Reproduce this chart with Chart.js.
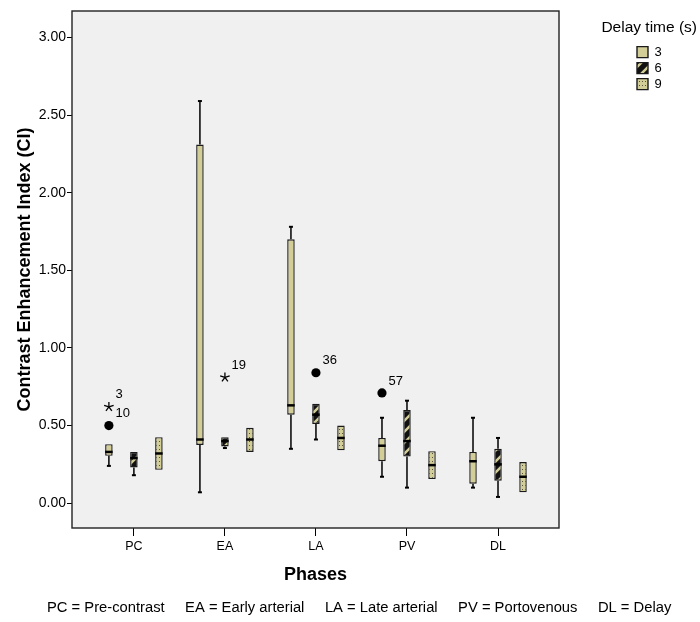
<!DOCTYPE html>
<html>
<head>
<meta charset="utf-8">
<script src="https://cdn.jsdelivr.net/npm/chart.js@4.4.1/dist/chart.umd.min.js"></script>
<style>
  body { margin: 0; background: #fff; }
  canvas { display: block; }
</style>
</head>
<body>
<canvas id="myChart" width="700" height="622"></canvas>
<script>
var phases = ["PC", "EA", "LA", "PV", "DL"];
var delays = ["3", "6", "9"];

// one row per delay time (3, 6, 9 s), one column per phase
var whiskerLow  = [[0.24, 0.07, 0.35, 0.17, 0.10],
                   [0.18, 0.355, 0.41, 0.10, 0.04],
                   [0.215, 0.33, 0.34, 0.155, 0.07]];
var quart1      = [[0.305, 0.375, 0.57, 0.27, 0.125],
                   [0.23, 0.365, 0.51, 0.30, 0.145],
                   [0.215, 0.33, 0.34, 0.155, 0.07]];
var median      = [[0.33, 0.41, 0.63, 0.37, 0.27],
                   [0.29, 0.40, 0.57, 0.40, 0.25],
                   [0.32, 0.41, 0.42, 0.245, 0.17]];
var quart3      = [[0.38, 2.31, 1.70, 0.42, 0.33],
                   [0.33, 0.425, 0.64, 0.60, 0.35],
                   [0.425, 0.485, 0.50, 0.335, 0.265]];
var whiskerHigh = [[0.385, 2.59, 1.78, 0.55, 0.55],
                   [0.335, 0.425, 0.64, 0.66, 0.42],
                   [0.425, 0.485, 0.50, 0.335, 0.265]];

// outliers (circle) and extremes (star) with case numbers
var outlierPhase = [0, 0, 1, 2, 3];
var outlierDelay = [0, 0, 1, 1, 0];
var outlierValue = [0.62, 0.50, 0.81, 0.84, 0.71];
var outlierCase  = ["3", "10", "19", "36", "57"];
var outlierStar  = [true, false, true, false, false];

var yTicks = [0, 0.5, 1, 1.5, 2, 2.5, 3];
var footnote = "PC = Pre-contrast     EA = Early arterial     LA = Late arterial     PV = Portovenous     DL = Delay";

var khaki = "#d3ce97";

function makePattern(kind) {
    var c = document.createElement("canvas");
    var g = c.getContext("2d");
    if (kind === "stripe") {
        c.width = 11; c.height = 11;
        g.fillStyle = "#111";
        g.fillRect(0, 0, 11, 11);
        g.strokeStyle = khaki;
        g.lineWidth = 2.5;
        g.beginPath();
        g.moveTo(0, 11); g.lineTo(11, 0);
        g.moveTo(-2, 2); g.lineTo(2, -2);
        g.moveTo(9, 13); g.lineTo(13, 9);
        g.stroke();
    } else {
        c.width = 3; c.height = 4;
        g.fillStyle = khaki;
        g.fillRect(0, 0, 3, 4);
        g.fillStyle = "#57523a";
        g.fillRect(0, 1, 1, 1);
    }
    return g.createPattern(c, "repeat");
}

var fills = [khaki, makePattern("stripe"), makePattern("dots")];

Chart.defaults.font.family = "'Liberation Sans', Arial, sans-serif";
Chart.defaults.color = "#000";

var datasets = delays.map(function (d, k) {
    return {
        label: d,
        data: phases.map(function (p, i) {
            return { x: i, y: [quart1[k][i], quart3[k][i]] };
        }),
        backgroundColor: fills[k],
        borderColor: "#1a1a1a",
        borderWidth: 1.4,
        borderSkipped: false,
        categoryPercentage: 0.824,
        barPercentage: 0.3
    };
});

function line(ctx, x1, y1, x2, y2) {
    ctx.beginPath();
    ctx.moveTo(x1, y1);
    ctx.lineTo(x2, y2);
    ctx.stroke();
}

var plotFrame = {
    id: "plotFrame",
    beforeDraw: function (chart) {
        var a = chart.chartArea, ctx = chart.ctx;
        ctx.save();
        ctx.fillStyle = "#f0f0f0";
        ctx.fillRect(a.left, a.top, a.right - a.left, a.bottom - a.top);
        ctx.restore();
    },
    afterDraw: function (chart) {
        var a = chart.chartArea, ctx = chart.ctx;
        ctx.save();
        ctx.strokeStyle = "#222";
        ctx.lineWidth = 1.4;
        ctx.strokeRect(a.left, a.top, a.right - a.left, a.bottom - a.top);
        ctx.fillStyle = "#000";
        ctx.font = "14.75px 'Liberation Sans', Arial, sans-serif";
        ctx.textBaseline = "middle";
        ctx.textAlign = "left";
        ctx.fillText(footnote, 47, chart.height - 14);
        ctx.restore();
    }
};

var boxParts = {
    id: "boxParts",
    afterDatasetsDraw: function (chart) {
        var ctx = chart.ctx, y = chart.scales.y;
        ctx.save();
        ctx.strokeStyle = "#000";
        delays.forEach(function (d, k) {
            var meta = chart.getDatasetMeta(k);
            meta.data.forEach(function (bar, i) {
                var x = bar.x, half = bar.width / 2;
                var yLo = y.getPixelForValue(whiskerLow[k][i]);
                var yQ1 = y.getPixelForValue(quart1[k][i]);
                var yMed = y.getPixelForValue(median[k][i]);
                var yQ3 = y.getPixelForValue(quart3[k][i]);
                var yHi = y.getPixelForValue(whiskerHigh[k][i]);
                if (yHi < yQ3 - 1) {
                    ctx.lineWidth = 1.5;
                    line(ctx, x, yQ3, x, yHi);
                    ctx.lineWidth = 2;
                    line(ctx, x - 2, yHi, x + 2, yHi);
                }
                if (yLo > yQ1 + 1) {
                    ctx.lineWidth = 1.5;
                    line(ctx, x, yQ1, x, yLo);
                    ctx.lineWidth = 2;
                    line(ctx, x - 2, yLo, x + 2, yLo);
                }
                ctx.lineWidth = 2.5;
                line(ctx, x - half, yMed, x + half, yMed);
            });
        });

        ctx.fillStyle = "#000";
        ctx.font = "13px 'Liberation Sans', Arial, sans-serif";
        ctx.textAlign = "left";
        ctx.textBaseline = "middle";
        outlierValue.forEach(function (v, n) {
            var bar = chart.getDatasetMeta(outlierDelay[n]).data[outlierPhase[n]];
            var px = bar.x, py = y.getPixelForValue(v);
            if (outlierStar[n]) {
                ctx.lineWidth = 1.3;
                for (var r = 0; r < 5; r++) {
                    var ang = -Math.PI / 2 + r * 2 * Math.PI / 5;
                    line(ctx, px, py, px + 5 * Math.cos(ang), py + 5 * Math.sin(ang));
                }
            } else {
                ctx.beginPath();
                ctx.arc(px, py, 4.6, 0, 2 * Math.PI);
                ctx.fill();
            }
            ctx.fillText(outlierCase[n], px + 6.5, py - 12);
        });
        ctx.restore();
    }
};

// narrow legend box (so swatches sit under the title) whose title may overhang to the left
var legendWidth = {
    id: "legendWidth",
    beforeInit: function (chart) {
        var legend = chart.legend;
        var fit = legend.fit;
        legend.fit = function () {
            fit.call(legend);
            this.width = 63;
        };
        var name = typeof legend.drawTitle === "function" ? "drawTitle" : "_drawTitle";
        var drawTitle = legend[name];
        legend[name] = function () {
            var ctx = this.ctx;
            ctx.restore();
            drawTitle.call(this);
            ctx.save();
            ctx.beginPath();
            ctx.rect(this.left, this.top, this.right - this.left, this.bottom - this.top);
            ctx.clip();
        };
    }
};

new Chart("myChart", {
    type: "bar",
    data: { datasets: datasets },
    plugins: [plotFrame, boxParts, legendWidth],
    options: {
        responsive: false,
        animation: false,
        layout: { padding: { top: 11, right: 3, bottom: 34, left: 0 } },
        scales: {
            x: {
                type: "linear",
                min: -0.68,
                max: 4.67,
                offset: false,
                grid: { offset: false, drawOnChartArea: false, drawTicks: true, tickLength: 8, color: "#000" },
                border: { display: false },
                afterBuildTicks: function (s) {
                    s.ticks = phases.map(function (p, i) { return { value: i }; });
                },
                ticks: {
                    callback: function (v) { return phases[v]; },
                    font: { size: 12.5 },
                    padding: 3,
                    autoSkip: false,
                    maxRotation: 0
                },
                title: {
                    display: true,
                    text: "Phases",
                    font: { size: 18, weight: "bold" },
                    padding: { top: 0, bottom: 2 }
                },
                afterFit: function (s) { s.height = 60; }
            },
            y: {
                min: -0.16,
                max: 3.17,
                grid: { drawOnChartArea: false, drawTicks: true, tickLength: 5, color: "#000" },
                border: { display: false },
                afterBuildTicks: function (s) {
                    s.ticks = yTicks.map(function (v) { return { value: v }; });
                },
                ticks: {
                    callback: function (v) { return v.toFixed(2); },
                    font: { size: 14 },
                    padding: 1
                },
                title: {
                    display: true,
                    text: "Contrast Enhancement Index (CI)",
                    font: { size: 18, weight: "bold" },
                    padding: { top: 14, bottom: 0 }
                },
                afterFit: function (s) { s.width = 72; }
            },
            gutter: {
                axis: "y",
                position: "right",
                grid: { display: false },
                border: { display: false },
                ticks: { display: false },
                afterFit: function (s) { s.width = 75; }
            }
        },
        plugins: {
            tooltip: { enabled: false },
            legend: {
                position: "right",
                align: "start",
                title: {
                    display: true,
                    text: "Delay time (s)",
                    position: "end",
                    font: { size: 15.5 },
                    padding: { top: 9, bottom: 4 }
                },
                labels: {
                    boxWidth: 11,
                    boxHeight: 11,
                    padding: 3,
                    font: { size: 13 }
                }
            }
        }
    }
});
</script>
</body>
</html>
